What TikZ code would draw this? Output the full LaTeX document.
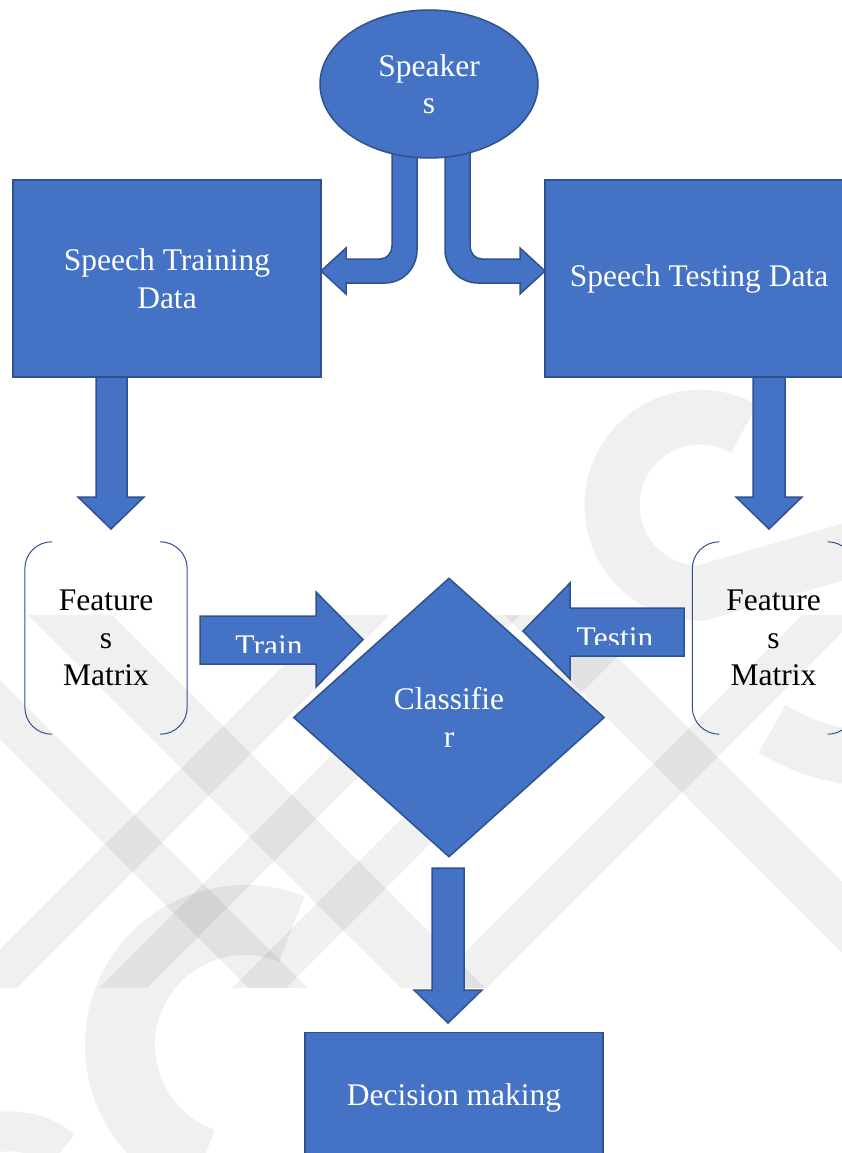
\documentclass[tikz,border=0pt]{standalone}
\usepackage{fontspec}
\setmainfont{Liberation Serif}
\usetikzlibrary{shapes.geometric,calc}
\definecolor{fillblue}{HTML}{4472C4}
\definecolor{edgeblue}{HTML}{2F528F}
\newcommand\diafont{\fontsize{31.5}{37.5}\selectfont}
\begin{document}
\begin{tikzpicture}[x=1pt,y=-1pt,
  blk/.style={fill=fillblue,draw=edgeblue,line width=1.5pt,line join=miter},
  box/.style={blk,rectangle,text=white,align=center,font=\diafont,inner sep=0pt},
  lbl/.style={text=white,font=\diafont,inner sep=0pt,anchor=base},
  feat/.style={rectangle,align=center,font=\diafont,text=black,inner sep=0pt,minimum width=162,minimum height=192},
  brk/.style={draw=edgeblue,line width=1pt},
  wmk/.style={draw=black,draw opacity=0.06,line cap=butt}]
\useasboundingbox (0,0) rectangle (842,1153);
\clip (0,0) rectangle (842,1153);
\fill[white] (0,0) rectangle (842,1153);

% ---- faint watermark ----
\begin{scope}
  \clip (0,615) rectangle (842,987);
  \draw[wmk,line width=39] (-73,1050) -- (427,550);
  \draw[wmk,line width=34] (61,1050) -- (561,550);
  \draw[wmk,line width=38] (197,1050) -- (697,550);
  \draw[wmk,line width=40] (396,1050) -- (896,550);
  \draw[wmk,line width=60] (5,550) -- (505,1050);
  \draw[wmk,line width=42] (-160,550) -- (340,1050);
  \draw[wmk,line width=50] (475,550) -- (975,1050);
\end{scope}
\draw[wmk,line width=55] (744,429) arc[start angle=-60,end angle=-270,radius=88] -- (850,550);
\draw[wmk,line width=55] (772,729) .. controls (800,745) and (820,752) .. (850,757);
\draw[wmk,line width=70] (291.8,929.1) arc[start angle=-68,end angle=-250,radius=125];
\draw[wmk,line width=40] (-10,1133) .. controls (20,1128) and (45,1135) .. (62,1150);

% ---- bent arrows from the speakers ----
\draw[blk] (392,140) -- (392,246) .. controls (392,253) and (387,259) .. (380,259)
  -- (346,259) -- (346,248) -- (321,271) -- (346,294) -- (346,283) -- (385,283)
  .. controls (403,283) and (417,268) .. (417,250) -- (417,140) -- cycle;
\draw[blk] (470,140) -- (470,246) .. controls (470,253) and (475,259) .. (482,259)
  -- (520,259) -- (520,248) -- (545,271) -- (520,294) -- (520,283) -- (478,283)
  .. controls (460,283) and (445,268) .. (445,250) -- (445,140) -- cycle;

% ---- nodes ----
\node[blk,ellipse,minimum width=218,minimum height=148,inner sep=0pt,text=white,align=center,font=\diafont] (spk) at (429,84) {Speaker\\s};
\node[box,minimum width=308,minimum height=197] (train) at (167,278.5) {Speech Training\\Data};
\node[box,minimum width=308,minimum height=197] (test) at (699,278.5) {Speech Testing Data};

% ---- down arrows ----
\draw[blk] (96,377) -- (96,497) -- (78,497) -- (111,529) -- (144,497) -- (127,497) -- (127,377) -- cycle;
\draw[blk] (753,377) -- (753,497) -- (736,497) -- (769,529) -- (802,497) -- (785,497) -- (785,377) -- cycle;

% ---- feature matrices ----
\node[feat] (fl) at (106,638) {Feature\\s\\Matrix};
\node[feat] (fr) at (773.5,638) {Feature\\s\\Matrix};
\foreach \n in {fl,fr}{
  \draw[brk] ([xshift=27pt]\n.north west) .. controls ([xshift=12pt]\n.north west) and ([yshift=-12pt]\n.north west) .. ([yshift=-27pt]\n.north west)
    -- ([yshift=27pt]\n.south west) .. controls ([yshift=12pt]\n.south west) and ([xshift=12pt]\n.south west) .. ([xshift=27pt]\n.south west);
  \draw[brk] ([xshift=-27pt]\n.north east) .. controls ([xshift=-12pt]\n.north east) and ([yshift=-12pt]\n.north east) .. ([yshift=-27pt]\n.north east)
    -- ([yshift=27pt]\n.south east) .. controls ([yshift=12pt]\n.south east) and ([xshift=-12pt]\n.south east) .. ([xshift=-27pt]\n.south east);
}

% ---- train / testing arrows ----
\draw[blk] (200,616) -- (316,616) -- (316,592) -- (363,639.5) -- (316,687) -- (316,664) -- (200,664) -- cycle;
\begin{scope}
  \clip (200,600) rectangle (316,652.5);
  \node[lbl] (trainlbl) at (269,656) {Train};
\end{scope}
\draw[blk] (684,608) -- (570,608) -- (570,583) -- (523,631) -- (570,679) -- (570,656) -- (684,656) -- cycle;
\begin{scope}
  \clip (570,600) rectangle (684,644.5);
  \node[lbl] (testlbl) at (615,648) {Testin};
\end{scope}

% ---- classifier ----
\node[blk,diamond,minimum width=311,minimum height=279,inner sep=0pt,text=white,align=center,font=\diafont] (cls) at (449,717.5) {Classifie\\r};

% ---- bottom arrow and decision ----
\draw[blk] (432,868) -- (432,990) -- (414,990) -- (448,1023) -- (482,990) -- (464,990) -- (464,868) -- cycle;
\node[box,minimum width=298,minimum height=130] (dec) at (454,1097.5) {Decision making};
\end{tikzpicture}
\end{document}
